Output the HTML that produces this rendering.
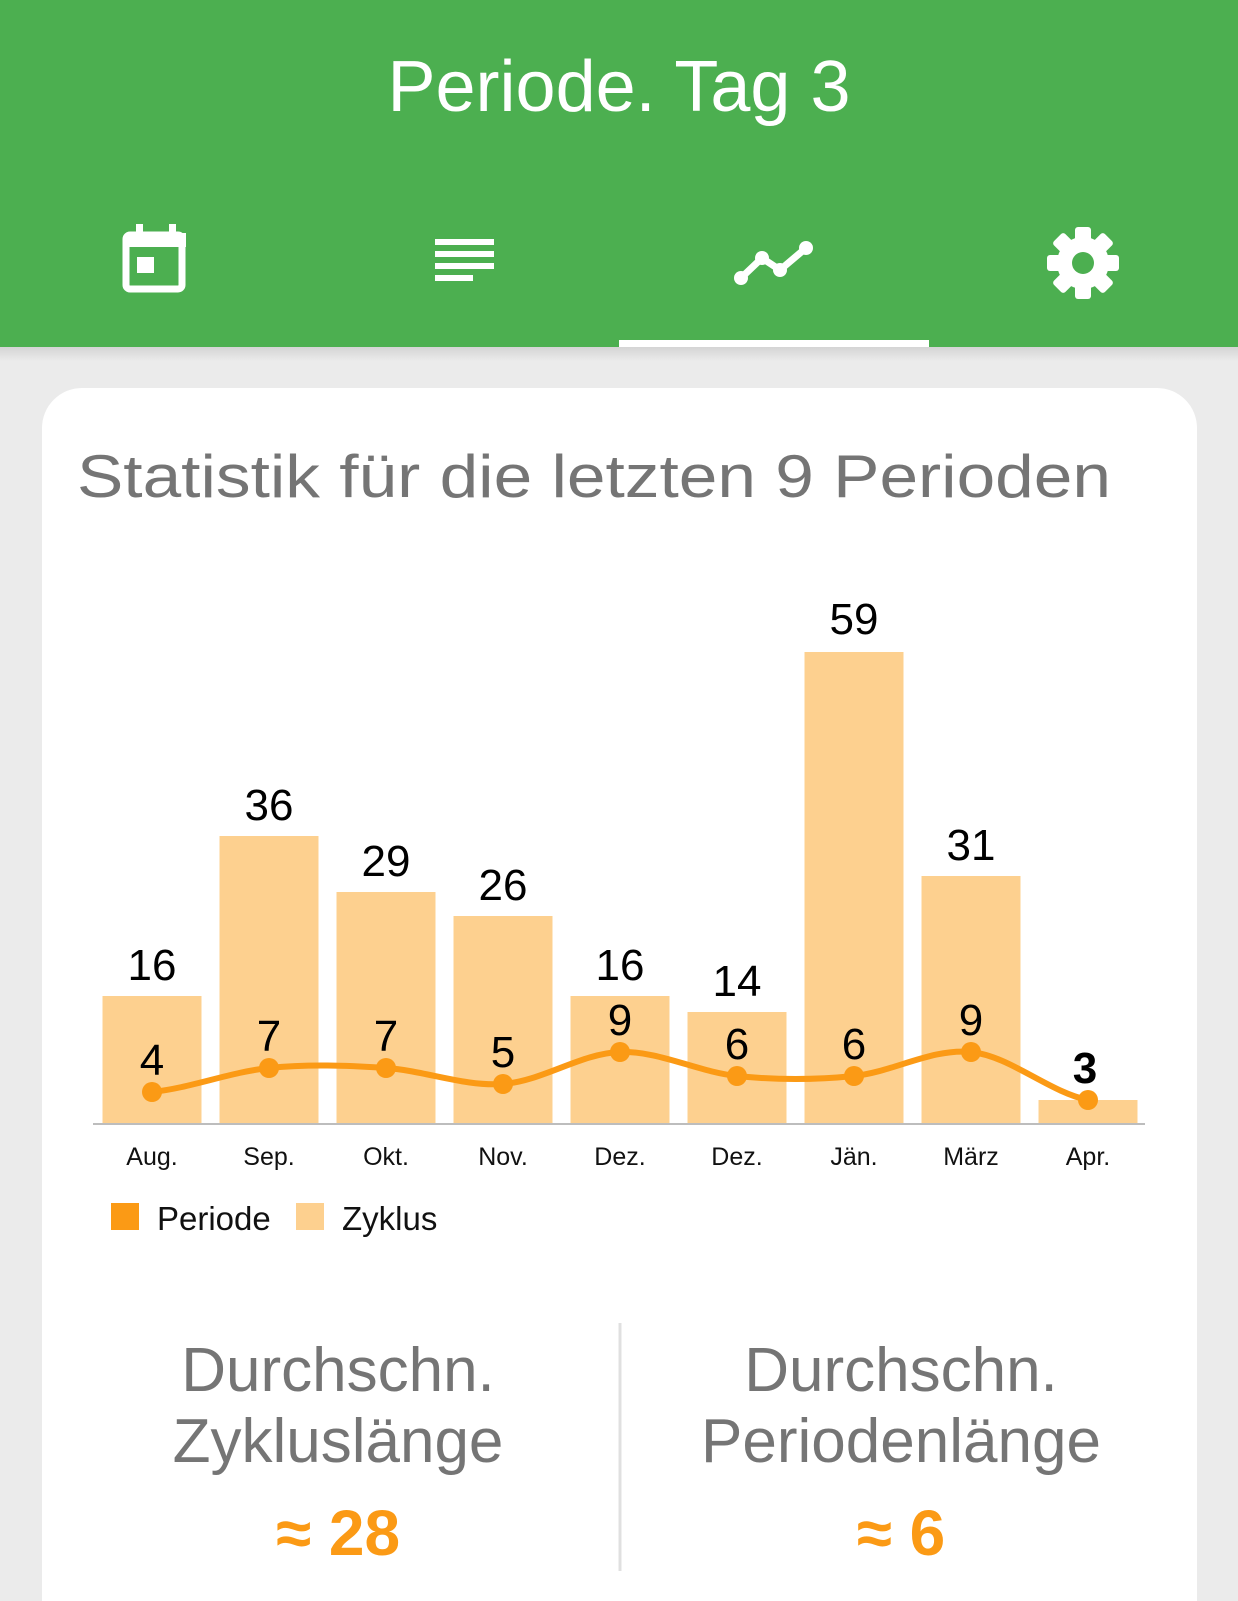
<!DOCTYPE html>
<html><head><meta charset="utf-8"><style>
html,body{margin:0;padding:0;background:#ebebeb;}
svg{display:block;font-family:"Liberation Sans",sans-serif;}
</style></head><body>
<svg width="1238" height="1601" viewBox="0 0 1238 1601">
<defs><linearGradient id="sh" x1="0" y1="0" x2="0" y2="1"><stop offset="0" stop-color="#d4d4d4"/><stop offset="1" stop-color="#ebebeb"/></linearGradient></defs>
<rect width="1238" height="1601" fill="#ebebeb"/>
<rect y="347" width="1238" height="14" fill="url(#sh)"/>
<rect width="1238" height="347" fill="#4caf50"/>
<text x="619" y="111" font-size="72" fill="#fff" text-anchor="middle">Periode. Tag 3</text>
<g fill="none" stroke="#fff" stroke-width="7"><rect x="126" y="235" width="56" height="54" rx="4"/></g>
<rect x="126" y="233" width="60" height="14" fill="#fff"/>
<rect x="136" y="224" width="7" height="14" fill="#fff"/><rect x="169" y="224" width="7" height="14" fill="#fff"/>
<rect x="137" y="257" width="17" height="16" fill="#fff"/>
<g fill="#fff"><rect x="435" y="239" width="59" height="6"/><rect x="435" y="251" width="59" height="6"/><rect x="435" y="263" width="59" height="6"/><rect x="435" y="275" width="38" height="6"/></g>
<polyline points="741,278 762,258 780,270 806,248" fill="none" stroke="#fff" stroke-width="7" stroke-linejoin="round"/>
<g fill="#fff"><circle cx="741" cy="278" r="7"/><circle cx="762" cy="258" r="7"/><circle cx="780" cy="270" r="7"/><circle cx="806" cy="248" r="7"/></g>
<g transform="translate(1083,263)" fill="#fff">
<circle r="26"/>
<g><rect x="-8" y="-36" width="16" height="72" rx="3"/><rect x="-8" y="-36" width="16" height="72" rx="3" transform="rotate(45)"/><rect x="-8" y="-36" width="16" height="72" rx="3" transform="rotate(90)"/><rect x="-8" y="-36" width="16" height="72" rx="3" transform="rotate(135)"/></g>
<circle r="11" fill="#4caf50"/></g>
<rect x="619" y="340" width="310" height="7" fill="#fff"/>
<rect x="42" y="388" width="1155" height="1260" rx="40" fill="#fff"/>
<text x="77" y="497" font-size="60" fill="#757575" textLength="1034" lengthAdjust="spacingAndGlyphs">Statistik für die letzten 9 Perioden</text>
<g fill="#fdd08f">
<rect x="102.5" y="996" width="99" height="128"/>
<rect x="219.5" y="836" width="99" height="288"/>
<rect x="336.5" y="892" width="99" height="232"/>
<rect x="453.5" y="916" width="99" height="208"/>
<rect x="570.5" y="996" width="99" height="128"/>
<rect x="687.5" y="1012" width="99" height="112"/>
<rect x="804.5" y="652" width="99" height="472"/>
<rect x="921.5" y="876" width="99" height="248"/>
<rect x="1038.5" y="1100" width="99" height="24"/>
</g>
<line x1="93" y1="1124" x2="1145" y2="1124" stroke="#bdbdbd" stroke-width="2"/>
<g font-size="44" fill="#000" text-anchor="middle">
<text x="152" y="980">16</text><text x="269" y="820">36</text><text x="386" y="876">29</text><text x="503" y="900">26</text><text x="620" y="980">16</text><text x="737" y="996">14</text><text x="854" y="634">59</text><text x="971" y="860">31</text>
</g>
<path d="M152,1092 C191,1088 230,1072 269,1068 C308,1064 347,1065.3 386,1068 C425,1070.7 464,1086.7 503,1084 C542,1081.3 581,1053.3 620,1052 C659,1050.7 698,1072 737,1076 C776,1080 815,1080 854,1076 C893,1072 932,1048 971,1052 C1010,1056 1049,1092 1088,1100" fill="none" stroke="#fb9a15" stroke-width="6"/>
<g fill="#fb9a15">
<circle cx="152" cy="1092" r="10"/><circle cx="269" cy="1068" r="10"/><circle cx="386" cy="1068" r="10"/><circle cx="503" cy="1084" r="10"/><circle cx="620" cy="1052" r="10"/><circle cx="737" cy="1076" r="10"/><circle cx="854" cy="1076" r="10"/><circle cx="971" cy="1052" r="10"/><circle cx="1088" cy="1100" r="10"/>
</g>
<g font-size="44" fill="#000" text-anchor="middle">
<text x="152" y="1075">4</text><text x="269" y="1051">7</text><text x="386" y="1051">7</text><text x="503" y="1067">5</text><text x="620" y="1035">9</text><text x="737" y="1059">6</text><text x="854" y="1059">6</text><text x="971" y="1035">9</text><text x="1085" y="1083" font-weight="bold">3</text>
</g>
<g font-size="25" fill="#111" text-anchor="middle">
<text x="152" y="1165">Aug.</text><text x="269" y="1165">Sep.</text><text x="386" y="1165">Okt.</text><text x="503" y="1165">Nov.</text><text x="620" y="1165">Dez.</text><text x="737" y="1165">Dez.</text><text x="854" y="1165">Jän.</text><text x="971" y="1165">März</text><text x="1088" y="1165">Apr.</text>
</g>
<rect x="111" y="1203" width="28" height="27" fill="#fb9a15"/>
<text x="157" y="1230" font-size="33" fill="#111">Periode</text>
<rect x="296" y="1203" width="28" height="27" fill="#fdd08f"/>
<text x="342" y="1230" font-size="33" fill="#111">Zyklus</text>
<line x1="620" y1="1323" x2="620" y2="1571" stroke="#e0e0e0" stroke-width="3"/>
<g font-size="62" fill="#757575" text-anchor="middle">
<text x="338" y="1391">Durchschn.</text><text x="338" y="1462">Zykluslänge</text>
<text x="901" y="1391">Durchschn.</text><text x="901" y="1462">Periodenlänge</text>
</g>
<g font-size="64" font-weight="bold" fill="#fb9a15" text-anchor="middle">
<text x="338" y="1555">≈ 28</text><text x="901" y="1555">≈ 6</text>
</g>
</svg>
</body></html>
